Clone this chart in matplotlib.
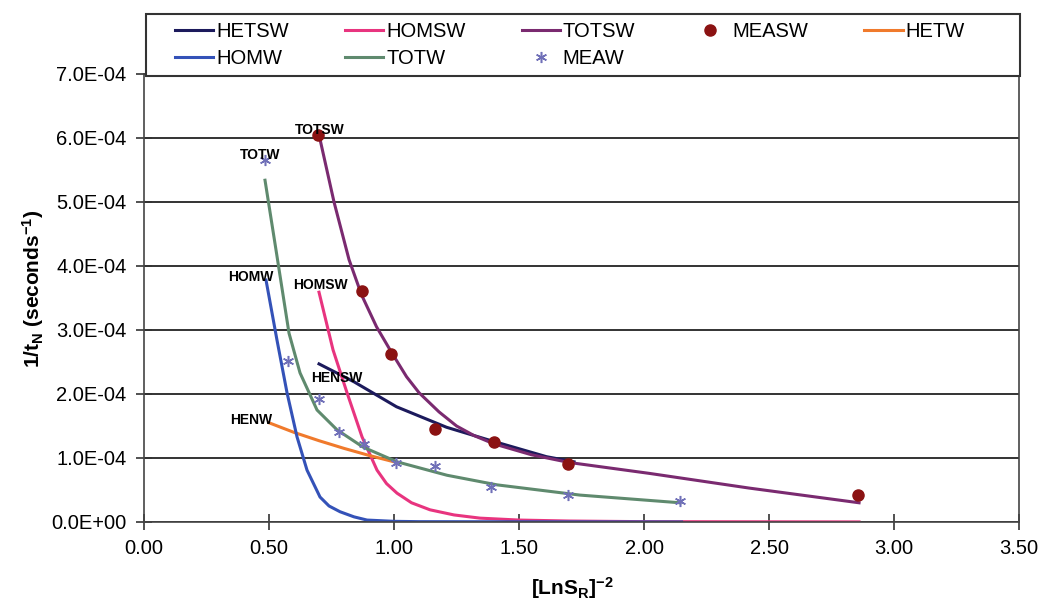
import matplotlib
matplotlib.use('Agg')
from matplotlib import pyplot as plt
from matplotlib.patches import Rectangle
from matplotlib.ticker import FormatStrFormatter, MultipleLocator

plt.rcParams['font.family'] = ['Liberation Sans', 'DejaVu Sans']
plt.rcParams['mathtext.fontset'] = 'custom'
plt.rcParams['mathtext.rm'] = 'Liberation Sans:bold'
plt.rcParams['mathtext.bf'] = 'Liberation Sans:bold'
plt.rcParams['mathtext.it'] = 'Liberation Sans:bold'
plt.rcParams['mathtext.default'] = 'rm'
plt.rcParams['axes.unicode_minus'] = False

# data input ========================
# measured points, sub-window (SW) and window (W)
measw_x = [0.696, 0.872, 0.988, 1.164, 1.40, 1.696, 2.856]
measw_y = [6.05e-4, 3.61e-4, 2.63e-4, 1.45e-4, 1.25e-4, 0.91e-4, 0.42e-4]

meaw_x = [0.484, 0.576, 0.70, 0.78, 0.88, 1.008, 1.164, 1.388, 1.696, 2.144]
meaw_y = [5.66e-4, 2.52e-4, 1.92e-4, 1.41e-4, 1.22e-4, 0.92e-4, 0.88e-4, 0.55e-4, 0.42e-4, 0.33e-4]

# model curves
totsw_x = [0.70, 0.76, 0.82, 0.87, 0.93, 0.99, 1.05, 1.10, 1.18, 1.25, 1.32, 1.40,
           1.55, 1.70, 2.02, 2.42, 2.86]
totsw_y = [6.05e-4, 5.0e-4, 4.1e-4, 3.55e-4, 3.05e-4, 2.65e-4, 2.27e-4, 2.02e-4,
           1.72e-4, 1.50e-4, 1.35e-4, 1.22e-4, 1.05e-4, 0.93e-4, 0.76e-4, 0.53e-4, 0.30e-4]

hetsw_x = [0.70, 0.84, 1.01, 1.21, 1.38, 1.61, 1.72]
hetsw_y = [2.47e-4, 2.19e-4, 1.80e-4, 1.48e-4, 1.28e-4, 1.02e-4, 0.94e-4]

homsw_x = [0.70, 0.756, 0.812, 0.872, 0.932, 0.97, 1.012, 1.07, 1.144, 1.24, 1.344,
           1.50, 1.70, 2.00, 2.86]
homsw_y = [3.59e-4, 2.69e-4, 2.02e-4, 1.33e-4, 0.81e-4, 0.60e-4, 0.45e-4, 0.30e-4,
           0.19e-4, 0.11e-4, 0.06e-4, 0.03e-4, 0.015e-4, 0.005e-4, 0.001e-4]

homw_x = [0.488, 0.532, 0.572, 0.612, 0.652, 0.704, 0.74, 0.784, 0.84, 0.892, 1.00,
          1.10, 2.15]
homw_y = [3.78e-4, 2.84e-4, 2.02e-4, 1.33e-4, 0.81e-4, 0.39e-4, 0.25e-4, 0.16e-4,
          0.08e-4, 0.03e-4, 0.01e-4, 0.005e-4, 0.0]

totw_x = [0.484, 0.53, 0.58, 0.624, 0.692, 0.772, 0.876, 1.012, 1.212, 1.412, 1.744, 2.144]
totw_y = [5.34e-4, 4.2e-4, 2.95e-4, 2.33e-4, 1.75e-4, 1.44e-4, 1.17e-4, 0.94e-4,
          0.73e-4, 0.58e-4, 0.42e-4, 0.30e-4]

hetw_x = [0.50, 0.60, 0.70, 0.80, 0.90, 1.00]
hetw_y = [1.55e-4, 1.40e-4, 1.27e-4, 1.15e-4, 1.04e-4, 0.94e-4]

# curve labels on the plot
note_text = ['TOTSW', 'TOTW', 'HOMW', 'HOMSW', 'HENSW', 'HENW']
note_x = [0.702, 0.466, 0.428, 0.704, 0.772, 0.428]
note_y = [6.12e-4, 5.74e-4, 3.83e-4, 3.71e-4, 2.25e-4, 1.59e-4]
#===================================

fig = plt.figure(figsize=(10.42, 6.11), dpi=100)
ax = fig.add_axes([0.1382, 0.1457, 0.8398, 0.7332])

l_hetsw, = ax.plot(hetsw_x, hetsw_y, color='#1c1a5c', lw=2.2, label='HETSW')
l_homsw, = ax.plot(homsw_x, homsw_y, color='#e8347f', lw=2.2, label='HOMSW')
l_totsw, = ax.plot(totsw_x, totsw_y, color='#7a2a70', lw=2.2, label='TOTSW')
l_hetw, = ax.plot(hetw_x, hetw_y, color='#f07a2c', lw=2.2, label='HETW')
l_homw, = ax.plot(homw_x, homw_y, color='#3452b8', lw=2.2, label='HOMW')
l_totw, = ax.plot(totw_x, totw_y, color='#5f8a6e', lw=2.2, label='TOTW')
s_measw, = ax.plot(measw_x, measw_y, ls='none', marker='o', ms=8,
                   color='#8b1212', label='MEASW', zorder=4)
s_meaw, = ax.plot(meaw_x, meaw_y, ls='none', marker=(6, 2, 0), ms=8, mew=1.1,
                  color='#7070b8', label='MEAW', zorder=4)

for t, x, y in zip(note_text, note_x, note_y):
    ax.text(x, y, t, ha='center', va='center', fontsize=10, fontweight='bold', zorder=5)

ax.set_xlim(0, 3.5)
ax.set_ylim(0, 7e-4)
ax.xaxis.set_major_locator(MultipleLocator(0.5))
ax.yaxis.set_major_locator(MultipleLocator(1e-4))
ax.xaxis.set_major_formatter(FormatStrFormatter('%.2f'))
ax.yaxis.set_major_formatter(FormatStrFormatter('%.1E'))
ax.tick_params(direction='inout', length=11, width=1.2, color='#333333',
               labelsize=14.5, pad=7)
ax.grid(axis='y', color='#333333', lw=1.4)
ax.set_axisbelow(True)
for sp in ax.spines.values():
    sp.set_color('#444444')
    sp.set_linewidth(1.2)

ax.set_xlabel('[LnS$_R$]$^{-2}$', fontsize=15, fontweight='bold')
ax.set_ylabel('1/t$_N$ (seconds$^{-1}$)', fontsize=15, fontweight='bold')
ax.xaxis.set_label_coords(0.49, -0.118)
ax.yaxis.set_label_coords(-0.112, 0.52)

# legend box on top of the plot
W, H = 1042.0, 611.0
box = Rectangle((146 / W, 1 - 76 / H), 874 / W, 62 / H, transform=fig.transFigure,
                facecolor='white', edgecolor='#333333', lw=1.5, zorder=4)
fig.add_artist(box)

handles = [l_hetsw, l_homw, l_homsw, l_totw, l_totsw, s_meaw, s_measw, l_hetw]
leg = fig.legend(handles=handles, labels=[h.get_label() for h in handles],
                 ncol=5, mode='expand', frameon=False, loc='center',
                 bbox_to_anchor=(175 / W, 1 - 74 / H, 790 / W, 58 / H),
                 fontsize=14.5, handlelength=1.9, handletextpad=0.15,
                 labelspacing=0.4, borderpad=0, borderaxespad=0, numpoints=1)
leg.set_zorder(6)

fig.savefig('out.png', dpi=100)
